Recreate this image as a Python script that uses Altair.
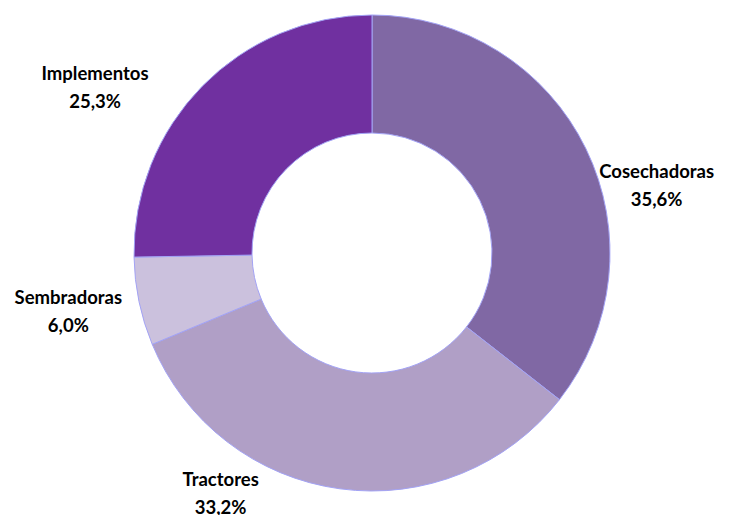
import altair as alt
import pandas as pd

categories = ["Cosechadoras", "Tractores", "Sembradoras", "Implementos"]
values = [35.6, 33.2, 6.0, 25.3]
pct_labels = ["35,6%", "33,2%", "6,0%", "25,3%"]
colors = ["#8068A4", "#B09FC6", "#CBC1DD", "#7030A0"]

df = pd.DataFrame({
    "cat": categories,
    "val": values,
    "pct": pct_labels,
    "order": list(range(len(categories))),
})
df["label"] = df["cat"] + "\n" + df["pct"]
total = float(sum(values))

# label nudges (dx, dy) from the radial anchor
nudges = {
    "Cosechadoras": (15, 50),
    "Tractores": (-111, -70),
    "Sembradoras": (-10, -16),
    "Implementos": (-63, 31),
}

theta_scale = alt.Scale(domain=[0, total])
cx, cy = 372, 253

arcs = alt.Chart(df).mark_arc(
    outerRadius=238, innerRadius=120, stroke="#a3a3f5", strokeWidth=1
).encode(
    theta=alt.Theta("val:Q", stack=True, scale=theta_scale),
    order=alt.Order("order:Q"),
    color=alt.Color("cat:N", scale=alt.Scale(domain=categories, range=colors), legend=None),
    x=alt.value(cx),
    y=alt.value(cy),
)

layers = [arcs]
for c in categories:
    dx, dy = nudges[c]
    layers.append(
        alt.Chart(df)
        .transform_window(cum="sum(val)", sort=[alt.SortField("order")])
        .transform_calculate(mid="datum.cum - datum.val / 2")
        .transform_filter(alt.datum.cat == c)
        .mark_text(
            radius=300, font="Lato", fontSize=18.5, fontWeight="bold", color="#000000",
            lineBreak="\n", lineHeight=28, align="center", baseline="middle", dx=dx, dy=dy
        )
        .encode(
            theta=alt.Theta("mid:Q", stack=None, scale=theta_scale),
            text="label:N",
            x=alt.value(cx),
            y=alt.value(cy),
        )
    )

chart = alt.layer(*layers).properties(
    width=750, height=515, autosize=alt.AutoSizeParams(type="none"), padding=0
).configure_view(stroke=None)

chart.save("out.html", embed_options={"renderer": "svg", "actions": False})
